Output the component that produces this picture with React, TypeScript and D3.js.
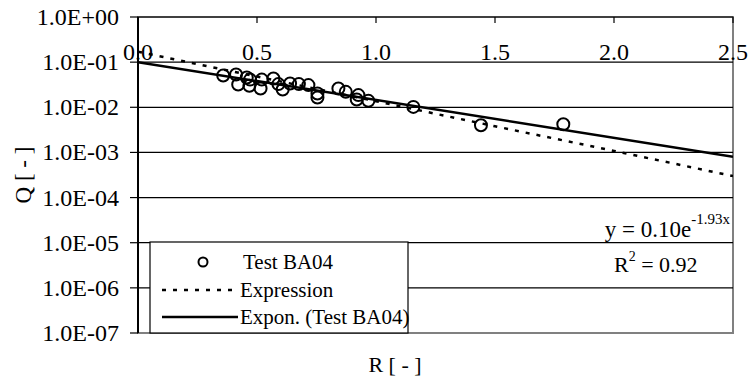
import React from "react";
import * as d3 from "d3";

const xTicks = [0, 0.5, 1.0, 1.5, 2.0, 2.5];
const xTickLabels = ["0.0", "0.5", "1.0", "1.5", "2.0", "2.5"];
const yTicks = [1, 1e-1, 1e-2, 1e-3, 1e-4, 1e-5, 1e-6, 1e-7];
const yTickLabels = ["1.0E+00", "1.0E-01", "1.0E-02", "1.0E-03", "1.0E-04", "1.0E-05", "1.0E-06", "1.0E-07"];

const testR = [0.358, 0.412, 0.421, 0.457, 0.471, 0.468, 0.52, 0.515, 0.569, 0.59, 0.608, 0.639, 0.676, 0.716, 0.754, 0.754, 0.842, 0.873, 0.926, 0.919, 0.968, 1.157, 1.441, 1.787];
const testQ = [0.0507, 0.0534, 0.032, 0.0457, 0.041, 0.030, 0.041, 0.026, 0.0435, 0.0326, 0.0248, 0.0337, 0.0326, 0.031, 0.0202, 0.0165, 0.026, 0.022, 0.0186, 0.0149, 0.0139, 0.0102, 0.0040, 0.0042];

const exprR = [0, 0.5, 1.0, 1.5, 2.0, 2.5];
const exprQ = [0.17, 0.048, 0.0136, 0.0038, 0.00108, 0.0003];

const trendA = 0.10;
const trendB = -1.93;
const trendR = [0, 2.5];

const seriesNames = ["Test BA04", "Expression", "Expon. (Test BA04)"];

const W = 749, H = 379;
const L = 138, R = 733, T = 17, B = 333;
const TS: React.CSSProperties = { fontFamily: "Liberation Serif, Times New Roman, DejaVu Serif, serif" };

export default function App() {
  const x = d3.scaleLinear().domain([0, 2.5]).range([L, R]);
  const y = d3.scaleLog().domain([1e-7, 1]).range([B, T]);
  const line = d3.line<[number, number]>().x(d => x(d[0])).y(d => y(d[1]));
  const exprPts: [number, number][] = exprR.map((r, i) => [r, exprQ[i]]);
  const trendPts: [number, number][] = trendR.map(r => [r, trendA * Math.exp(trendB * r)]);

  return (
    <svg width={W} height={H} style={{ position: "absolute", left: 0, top: 0, background: "#fff" }}>
      <defs>
        <clipPath id="plot"><rect x={L} y={T} width={R - L} height={B - T} /></clipPath>
      </defs>
      <rect x={L} y={T} width={R - L} height={B - T} fill="#fff" stroke="#808080" strokeWidth={2} />
      {yTicks.slice(0, 7).map((t, i) => (
        <line key={i} x1={L} x2={R} y1={y(t)} y2={y(t)} stroke="#000" strokeWidth={1.2} />
      ))}
      {yTicks.map((t, i) => (
        <line key={"yt" + i} x1={L - 8} x2={L} y1={y(t)} y2={y(t)} stroke="#000" strokeWidth={1.2} />
      ))}
      {xTicks.map((t, i) => (
        <line key={"xt" + i} x1={x(t)} x2={x(t)} y1={T} y2={T + 6} stroke="#000" strokeWidth={1.2} />
      ))}
      <line x1={L} x2={L} y1={T} y2={B} stroke="#000" strokeWidth={2} />
      {yTickLabels.map((s, i) => (
        <text key={"yl" + i} style={TS} x={119} y={y(yTicks[i]) + 8} textAnchor="end" fontSize={24}>{s}</text>
      ))}
      {xTickLabels.map((s, i) => (
        <text key={"xl" + i} style={TS} x={x(xTicks[i])} y={60} textAnchor="middle" fontSize={24}>{s}</text>
      ))}
      <g clipPath="url(#plot)">
        <path d={line(exprPts) || ""} fill="none" stroke="#000" strokeWidth={2.5} strokeDasharray="4 7" />
        <path d={line(trendPts) || ""} fill="none" stroke="#000" strokeWidth={2.5} />
        {testR.map((r, i) => (
          <circle key={"p" + i} cx={x(r)} cy={y(testQ[i])} r={6} fill="none" stroke="#000" strokeWidth={2} />
        ))}
      </g>
      <text style={TS} x={730} y={237} textAnchor="end" fontSize={23}>
        y = 0.10e<tspan fontSize={15} dy={-13}>-1.93x</tspan>
      </text>
      <text style={TS} x={614} y={272} fontSize={22}>
        R<tspan fontSize={14} dy={-11}>2</tspan><tspan dy={11}> = 0.92</tspan>
      </text>
      <rect x={150} y={242} width={258} height={91} fill="#fff" stroke="#000" strokeWidth={1.2} />
      <circle cx={203} cy={262} r={4.5} fill="none" stroke="#000" strokeWidth={2} />
      <line x1={162} x2={238} y1={290} y2={290} stroke="#000" strokeWidth={2.5} strokeDasharray="4 7" />
      <line x1={162} x2={238} y1={317} y2={317} stroke="#000" strokeWidth={2.5} />
      <text style={TS} x={243} y={269} fontSize={21}>{seriesNames[0]}</text>
      <text style={TS} x={240} y={297} fontSize={21}>{seriesNames[1]}</text>
      <text style={TS} x={240} y={324} fontSize={21}>{seriesNames[2]}</text>
      <text style={TS} x={395} y={372} textAnchor="middle" fontSize={22}>R [ - ]</text>
      <text style={TS} transform="translate(31,175) rotate(-90)" textAnchor="middle" fontSize={23}>Q [ - ]</text>
    </svg>
  );
}
